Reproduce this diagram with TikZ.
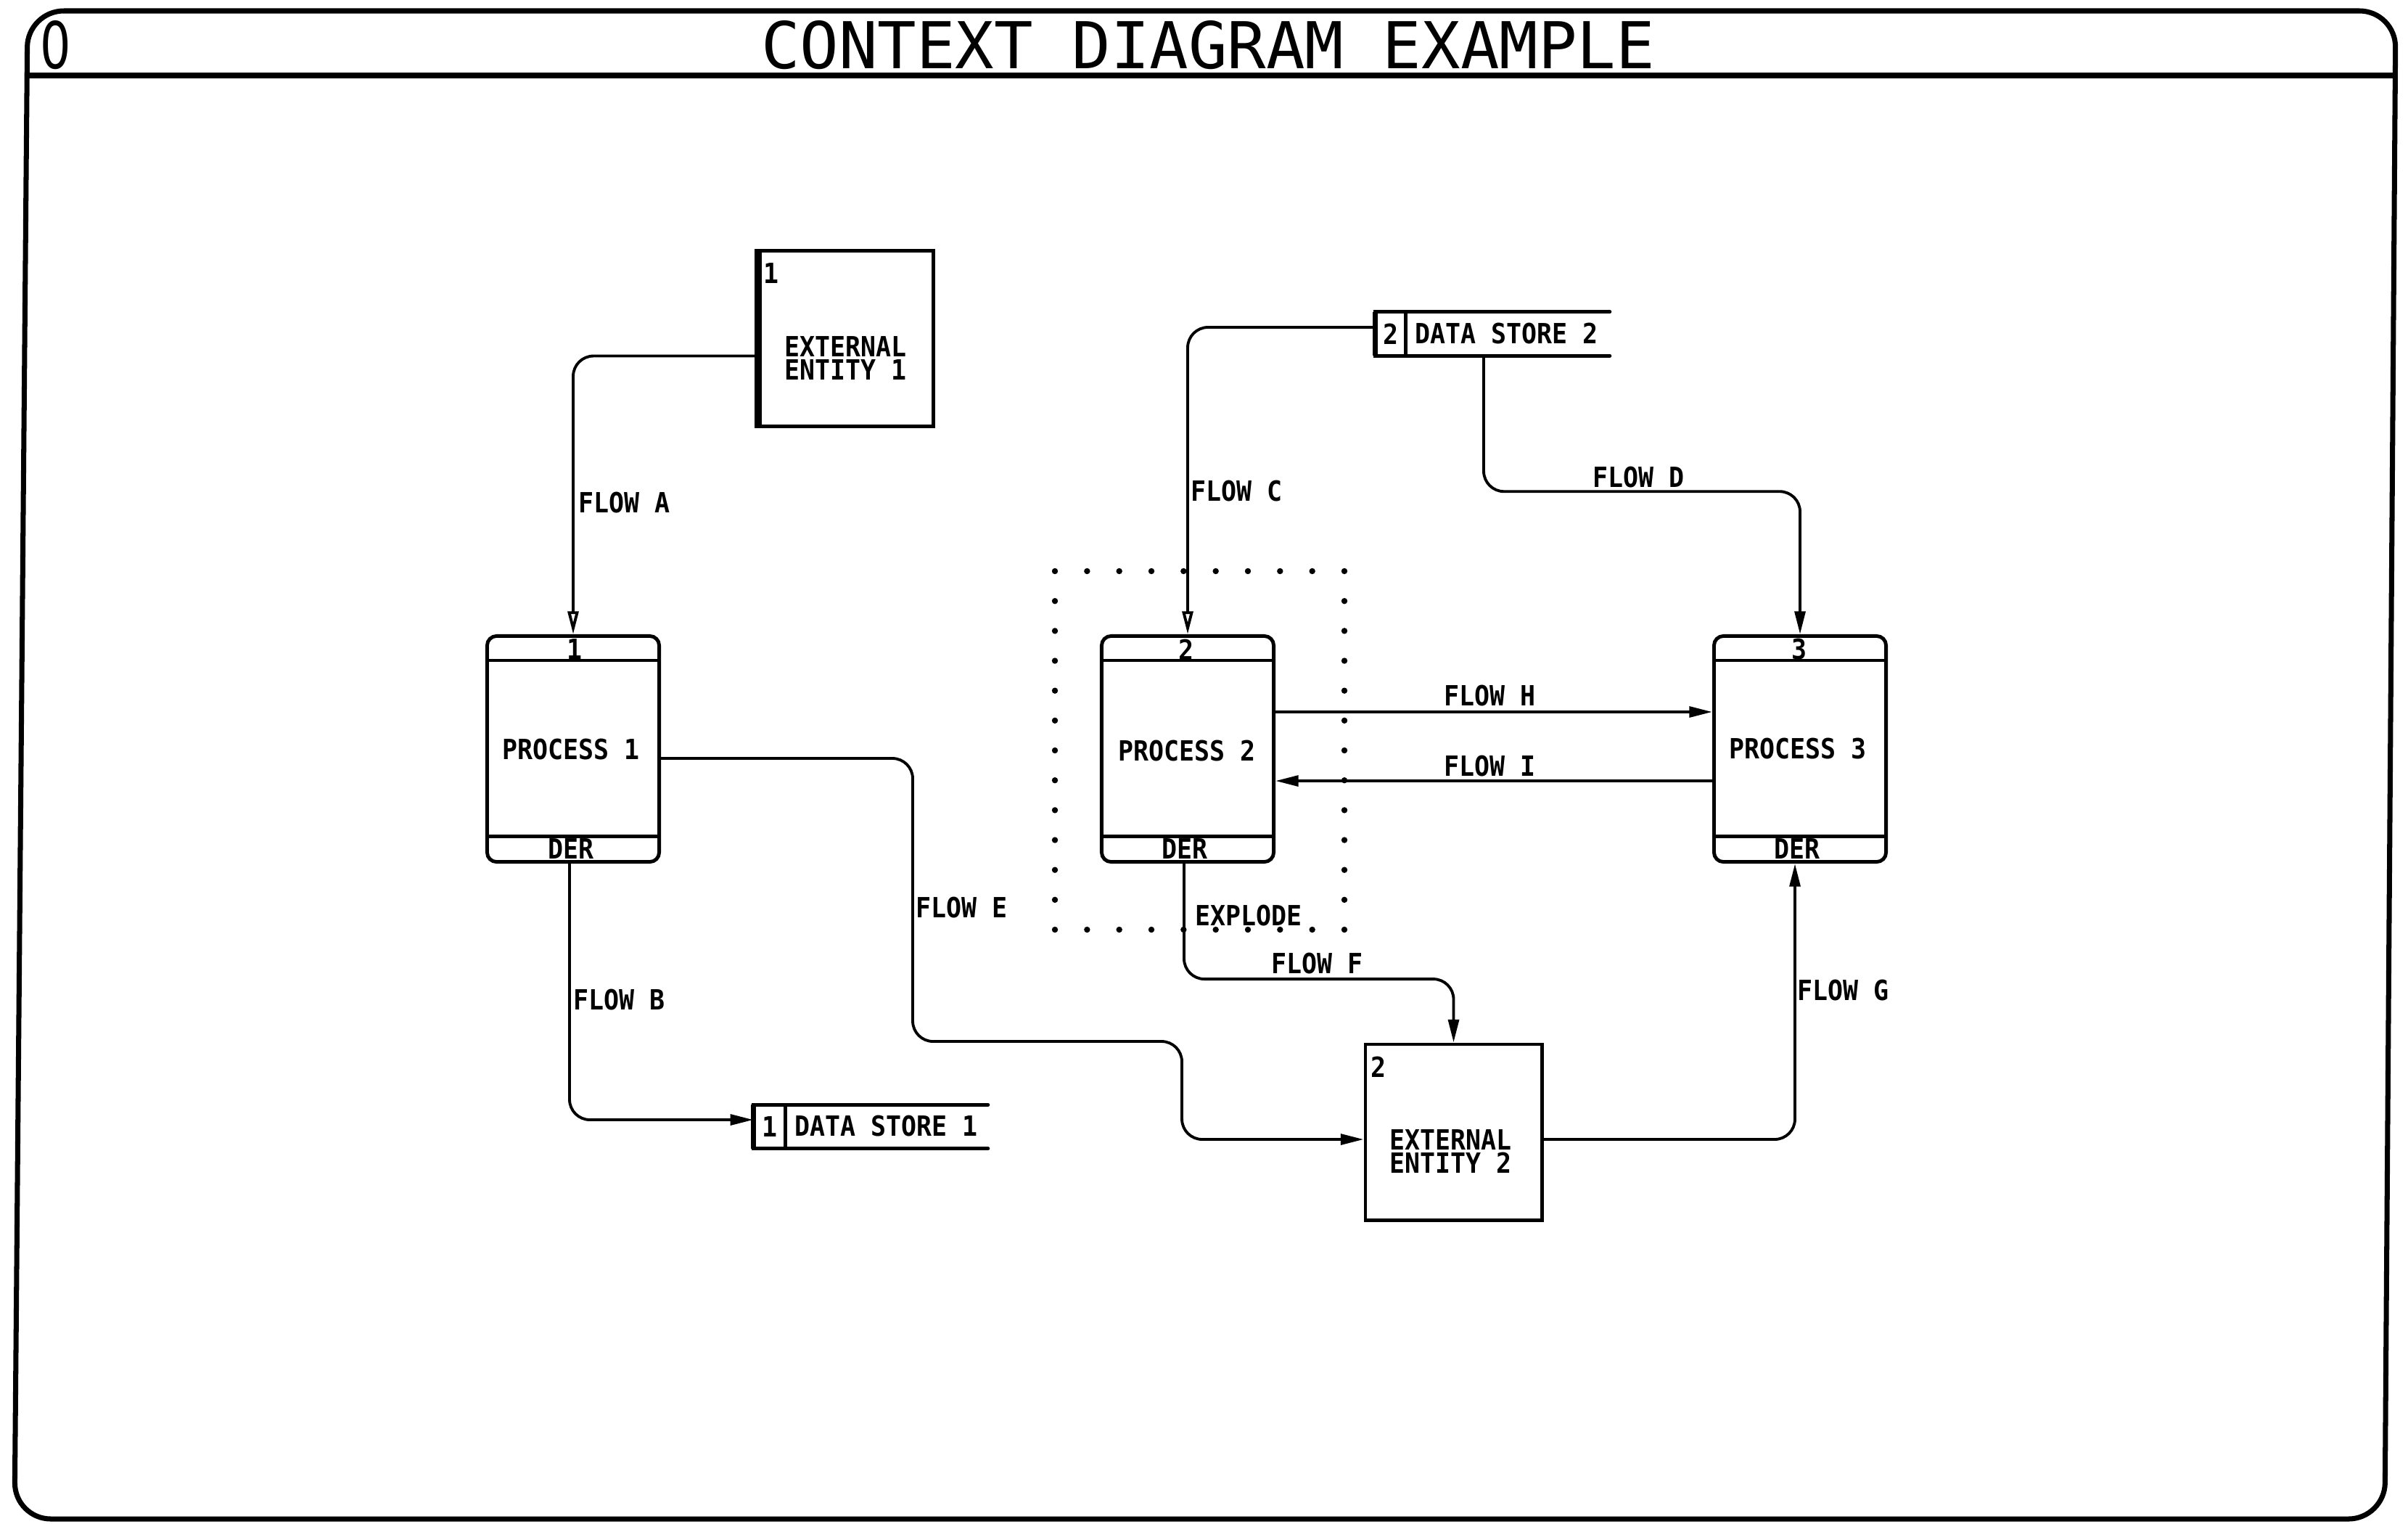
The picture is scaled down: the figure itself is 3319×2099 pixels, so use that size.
\documentclass[tikz,border=0pt]{standalone}
\usepackage{fontspec}
\usetikzlibrary{arrows.meta}
\newfontfamily\plotfont{DejaVu Sans Mono}[FakeStretch=0.91]
\newfontfamily\titlefont{DejaVu Sans Mono}
\newfontfamily\zerofont{DejaVu Sans}[FakeStretch=0.75]
\begin{document}
\begin{tikzpicture}[x=0.01cm,y=-0.01cm,
  lbl/.style={font=\plotfont\bfseries\fontsize{10.9pt}{9.1pt}\selectfont, inner sep=0pt},
  proc/.style={draw, line width=1.4pt, rounded corners=0.13cm, minimum width=2.37cm, minimum height=3.11cm, inner sep=0pt},
  ent/.style={draw, line width=1.4pt, minimum width=2.43cm, minimum height=2.42cm, inner sep=0pt},
  store/.style={inner sep=0pt, minimum width=3.22cm, minimum height=0.59cm},
  boxline/.style={line width=1.4pt},
  flow/.style={line width=1.1pt, rounded corners=0.28cm, -{Triangle[length=9pt,width=4.2pt]}},
  flowo/.style={line width=1.1pt, rounded corners=0.28cm, -{Triangle[open,length=9pt,width=4.2pt]}}
]
\useasboundingbox (0,0) rectangle (3319,2099);
% frame
\draw[line width=2pt, rounded corners=0.5cm] (38,15) -- (3302,15) -- (3287,2093) -- (20,2093) -- cycle;
\draw[line width=2pt] (37,104) -- (3301,104);
\node[font=\titlefont\fontsize{25.3pt}{30pt}\selectfont, inner sep=0pt] (title) at (1665,62) {CONTEXT DIAGRAM EXAMPLE};
\node[font=\zerofont\fontsize{25.3pt}{30pt}\selectfont, inner sep=0pt] (zero) at (77,62) {0};

% processes
\foreach \n/\x/\lab in {p1/790/1, p2/1637/2, p3/2481/3}{
  \node[proc] (\n) at (\x,1032) {};
  \draw[boxline] ([yshift=-0.36cm]\n.north west) -- ([yshift=-0.36cm]\n.north east);
  \draw[boxline] ([yshift=0.38cm]\n.south west) -- ([yshift=0.38cm]\n.south east);
}
\node[lbl] (p1n) at (792,895) {1};
\node[lbl] (p1t) at (787,1033) {PROCESS 1};
\node[lbl] (p1d) at (787,1169) {DER};
\node[lbl] (p2n) at (1635,895) {2};
\node[lbl] (p2t) at (1636,1035) {PROCESS 2};
\node[lbl] (p2d) at (1633,1169) {DER};
\node[lbl] (p3n) at (2480,895) {3};
\node[lbl] (p3t) at (2478,1032) {PROCESS 3};
\node[lbl] (p3d) at (2477,1169) {DER};

% external entities
\node[ent] (ee1) at (1165,466.5) {};
\draw[line width=3pt] ([xshift=0.04cm]ee1.north west) -- ([xshift=0.04cm]ee1.south west);
\node[lbl] (ee1n) at (1063,377) {1};
\node[lbl, align=center] (ee1t) at (1165,494) {EXTERNAL\\ENTITY 1};
\node[ent] (ee2) at (2003.5,1560) {};
\node[lbl] (ee2n) at (1900,1470) {2};
\node[lbl, align=center] (ee2t) at (1999,1586) {EXTERNAL\\ENTITY 2};

% data stores
\node[store] (ds1) at (1200,1552.5) {};
\draw[boxline, line cap=round] (ds1.north east) -- (ds1.north west) -- (ds1.south west) -- (ds1.south east);
\draw[line width=2pt] (ds1.north west) -- (ds1.south west);
\draw[boxline] ([xshift=0.44cm]ds1.north west) -- ([xshift=0.44cm]ds1.south west);
\node[lbl] (ds1n) at (1061,1552) {1};
\node[lbl, anchor=west] (ds1t) at (1095,1552) {DATA STORE 1};

\node[store] (ds2) at (2057,460) {};
\draw[boxline, line cap=round] (ds2.north east) -- (ds2.north west) -- (ds2.south west) -- (ds2.south east);
\draw[line width=2pt] (ds2.north west) -- (ds2.south west);
\draw[boxline] ([xshift=0.42cm]ds2.north west) -- ([xshift=0.42cm]ds2.south west);
\node[lbl] (ds2n) at (1917,460) {2};
\node[lbl, anchor=west] (ds2t) at (1950,460) {DATA STORE 2};

% dotted explode boundary
\foreach \i in {0,...,9}{
  \fill (1454+\i*44.33,787) circle[radius=0.042cm];
  \fill (1454+\i*44.33,1281) circle[radius=0.042cm];
}
\foreach \j in {1,...,11}{
  \fill (1454,787+\j*41.17) circle[radius=0.042cm];
  \fill (1853,787+\j*41.17) circle[radius=0.042cm];
}

% flows
\draw[flowo] ([yshift=-0.24cm]ee1.west) -| (p1.north);
\draw[flow] ([xshift=-0.05cm]p1.south) |- ([yshift=0.095cm]ds1.west);
\draw[flowo] ([yshift=0.09cm]ds2.west) -| (p2.north);
\draw[flow] ([xshift=-0.12cm]ds2.south) -- ++(0,187) -| (p3.north);
\draw[flow] ([yshift=-0.13cm]p1.east) -- ++(347,0) -- ++(0,390) -- ++(371,0) |- ([yshift=-0.1cm]ee2.west);
\draw[flow] ([xshift=-0.05cm]p2.south) -- ++(0,159) -| (ee2.north);
\draw[flow] ([yshift=-0.1cm]ee2.east) -| ([xshift=-0.07cm]p3.south);
\draw[flow] ([yshift=0.51cm]p2.east) -- ([yshift=0.51cm]p3.west);
\draw[flow] ([yshift=-0.44cm]p3.west) -- ([yshift=-0.44cm]p2.east);

% flow labels
\node[lbl, anchor=west] (la) at (797,693) {FLOW A};
\node[lbl, anchor=west] (lb) at (790,1378) {FLOW B};
\node[lbl, anchor=west] (lc) at (1641,677) {FLOW C};
\node[lbl, anchor=west] (ld) at (2195,658) {FLOW D};
\node[lbl, anchor=west] (le) at (1262,1251) {FLOW E};
\node[lbl, anchor=west] (lf) at (1752,1328) {FLOW F};
\node[lbl, anchor=west] (lg) at (2477,1365) {FLOW G};
\node[lbl, anchor=west] (lh) at (1990,959) {FLOW H};
\node[lbl, anchor=west] (li) at (1990,1056) {FLOW I};
\node[lbl, anchor=west] (lx) at (1647,1262) {EXPLODE};
\end{tikzpicture}
\end{document}
